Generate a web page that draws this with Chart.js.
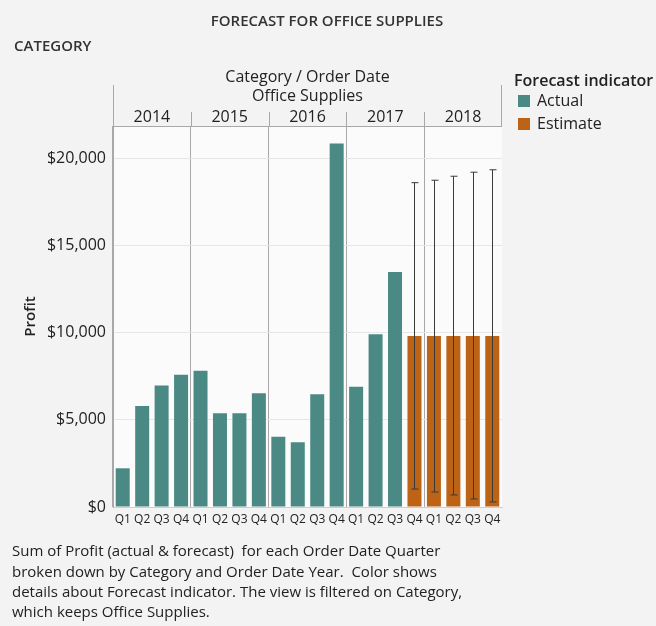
<!DOCTYPE html>
<html>
<head>
<meta charset="utf-8">
<script src="https://cdn.jsdelivr.net/npm/chart.js@4.4.1/dist/chart.umd.min.js"></script>
<style>
  body { margin: 0; background: #f2f2f2; }
  #wrap { width: 656px; height: 626px; }
</style>
</head>
<body>
<div id="wrap"><canvas id="myChart" width="656" height="626"></canvas></div>
<script>
const years = ['2014', '2015', '2016', '2017', '2018'];
const quarters = ['Q1', 'Q2', 'Q3', 'Q4'];
// profit per quarter, 2014 Q1 .. 2018 Q4
const actualProfit = [2220, 5790, 6970, 7580, 7810, 5370, 5370, 6520, 4030, 3720, 6460, 20840, 6900, 9910, 13480, null, null, null, null, null];
const estimateProfit = [null, null, null, null, null, null, null, null, null, null, null, null, null, null, null, 9800, 9800, 9800, 9800, 9800];
const estimateLow = [null, null, null, null, null, null, null, null, null, null, null, null, null, null, null, 1030, 860, 690, 460, 290];
const estimateHigh = [null, null, null, null, null, null, null, null, null, null, null, null, null, null, null, 18600, 18740, 18970, 19200, 19340];
const yTicks = [0, 5000, 10000, 15000, 20000];

const labels = [];
years.forEach(() => quarters.forEach(q => labels.push(q)));

const font = "'Open Sans', 'Noto Sans', sans-serif";
const teal = '#4b8a84';
const orange = '#bd6316';

const extras = {
    id: 'extras',
    beforeDraw(chart) {
        const c = chart.ctx;
        const a = chart.chartArea;
        c.save();
        c.fillStyle = '#f3f3f3';
        c.fillRect(0, 0, chart.width, chart.height);
        c.fillStyle = '#fbfbfb';
        c.fillRect(a.left, a.top, a.right - a.left, a.bottom - a.top);
        c.restore();
    },
    afterDatasetsDraw(chart) {
        const c = chart.ctx;
        const x = chart.scales.x;
        const y = chart.scales.y;
        c.save();
        c.strokeStyle = '#3a3a3a';
        c.lineWidth = 1;
        estimateLow.forEach((lo, i) => {
            if (lo === null) return;
            const px = Math.round(x.getPixelForValue(i)) + 0.5;
            const top = y.getPixelForValue(estimateHigh[i]);
            const bot = y.getPixelForValue(lo);
            c.beginPath();
            c.moveTo(px, top); c.lineTo(px, bot);
            c.moveTo(px - 3, top); c.lineTo(px + 4, top);
            c.moveTo(px - 3, bot); c.lineTo(px + 4, bot);
            c.stroke();
        });
        c.restore();
    },
    afterDraw(chart) {
        const c = chart.ctx;
        const a = chart.chartArea;
        const x = chart.scales.x;
        const step = (a.right - a.left) / labels.length;
        c.save();
        c.fillStyle = '#333';
        c.textBaseline = 'middle';

        c.font = '600 15px ' + font;
        c.textAlign = 'center';
        c.fillText('FORECAST FOR OFFICE SUPPLIES', 327, 22);
        c.textAlign = 'left';
        c.fillText('CATEGORY', 14, 47);

        // header
        const mid = (a.left + a.right) / 2;
        c.textAlign = 'center';
        c.font = '16px ' + font;
        c.fillStyle = '#222';
        c.fillText('Category / Order Date', mid, 77);
        c.fillText('Office Supplies', mid, 96);

        c.strokeStyle = '#a8a8a8';
        c.lineWidth = 1;
        c.beginPath();
        c.moveTo(a.left + 0.5, 85); c.lineTo(a.left + 0.5, a.top);
        c.moveTo(a.right - 0.5, 85); c.lineTo(a.right - 0.5, a.top);
        c.moveTo(a.left, a.top + 0.5); c.lineTo(a.right, a.top + 0.5);
        years.forEach((yr, i) => {
            const left = x.getPixelForValue(i * 4) - step / 2;
            if (i > 0) {
                c.moveTo(Math.round(left) + 0.5, 112);
                c.lineTo(Math.round(left) + 0.5, a.top);
            }
        });
        c.stroke();

        c.font = '16px ' + font;
        years.forEach((yr, i) => {
            const cx = x.getPixelForValue(i * 4 + 1.5);
            c.fillText(yr, cx, 117);
        });

        // legend
        c.textAlign = 'left';
        c.font = '600 16px ' + font;
        c.fillText('Forecast indicator', 514, 81);
        c.font = '16px ' + font;
        c.fillStyle = teal;
        c.fillRect(518, 95, 12, 12);
        c.fillStyle = orange;
        c.fillRect(518, 118, 12, 12);
        c.fillStyle = '#222';
        c.fillText('Actual', 537, 101);
        c.fillText('Estimate', 537, 124);

        // caption
        c.font = '15px ' + font;
        c.fillStyle = '#222';
        const caption = [
            'Sum of Profit (actual & forecast)  for each Order Date Quarter',
            'broken down by Category and Order Date Year.  Color shows',
            'details about Forecast indicator. The view is filtered on Category,',
            'which keeps Office Supplies.'
        ];
        caption.forEach((line, i) => c.fillText(line, 12, 552 + i * 20.3));
        c.restore();
    }
};

const ctx = document.getElementById('myChart').getContext('2d');
const myChart = new Chart(ctx, {
    type: 'bar',
    data: {
        labels: labels,
        datasets: [
            { label: 'Actual', data: actualProfit, backgroundColor: teal },
            { label: 'Estimate', data: estimateProfit, backgroundColor: orange }
        ]
    },
    options: {
        responsive: false,
        animation: false,
        layout: { padding: { left: 22, top: 126, right: 154, bottom: 97 } },
        datasets: { bar: { grouped: false, barPercentage: 0.72, categoryPercentage: 1 } },
        plugins: { legend: { display: false }, tooltip: { enabled: false } },
        scales: {
            x: {
                afterFit: s => { s.height = 22; },
                grid: {
                    offset: true,
                    drawTicks: false,
                    color: c => (c.index % 4 === 0 ? '#a8a8a8' : 'rgba(0,0,0,0)')
                },
                border: { display: true, color: '#cfcfcf' },
                ticks: {
                    autoSkip: false, maxRotation: 0, padding: 5,
                    color: '#222', font: { family: font, size: 12 }
                }
            },
            y: {
                min: 0,
                max: 21850,
                afterFit: s => { s.width = 91; },
                afterBuildTicks: s => { s.ticks = yTicks.map(v => ({ value: v })); },
                grid: { color: '#e6e6e6', drawTicks: false },
                border: { display: true, color: '#a8a8a8' },
                title: {
                    display: true, text: 'Profit', color: '#222', padding: 0,
                    font: { family: font, size: 15, weight: '600' }
                },
                ticks: {
                    padding: 7, color: '#222',
                    font: { family: font, size: 16 },
                    callback: v => '$' + v.toLocaleString('en-US')
                }
            }
        }
    },
    plugins: [extras]
});
</script>
</body>
</html>
